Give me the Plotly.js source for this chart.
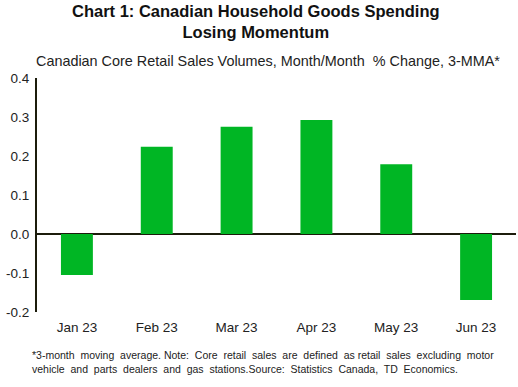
<!DOCTYPE html>
<html><head><meta charset="utf-8">
<script src="https://cdn.plot.ly/plotly-3.0.1.min.js"></script>
<style>html,body{margin:0;padding:0;background:#fff}#c{width:518px;height:387px}</style>
</head><body><div id="c"></div>
<script>
const months = ["Jan 23","Feb 23","Mar 23","Apr 23","May 23","Jun 23"];
const values = [-0.105, 0.224, 0.275, 0.292, 0.179, -0.169];
const yTicks = [-0.2,-0.1,0.0,0.1,0.2,0.3,0.4];
const yTickText = ["-0.2","-0.1","0.0","0.1","0.2","0.3","0.4"];

const font = "Liberation Sans, Arial, sans-serif";
const data = [{type:"bar", x:months, y:values, marker:{color:"#00b624"}, hoverinfo:"none"}];
const layout = {
  width:518, height:387,
  margin:{l:37, r:2, t:78, b:75},
  paper_bgcolor:"#fff", plot_bgcolor:"#fff",
  bargap:0.6,
  showlegend:false,
  font:{family:font, color:"#222", size:13},
  xaxis:{showgrid:false, showline:false, zeroline:false, ticks:"", tickfont:{size:13.5, color:"#222"}, ticklabelstandoff:5},
  yaxis:{range:[-0.2,0.4], tickvals:yTicks, ticktext:yTickText, showgrid:false, showline:true, linecolor:"#1c1c0c", linewidth:2,
         zeroline:true, zerolinecolor:"#1c1c0c", zerolinewidth:2, ticks:"", tickfont:{size:13.5,color:"#222"}, ticklabelstandoff:3},
  annotations:[
    {text:"<b>Chart 1: Canadian Household Goods Spending</b><br><b>Losing Momentum</b>", xref:"paper", yref:"paper",
     x:0.457, y:1, yshift:78, xanchor:"center", yanchor:"top", showarrow:false, font:{size:16.5, color:"#111", family:font}},
    {text:"Canadian Core Retail Sales Volumes, Month/Month  % Change, 3-MMA*", xref:"paper", yref:"paper",
     x:0.0, xshift:-3, y:1, yshift:27, xanchor:"left", yanchor:"top", showarrow:false, font:{size:14.4, color:"#222", family:font}},
    {text:"*3-month  moving  average. Note:  Core  retail  sales  are  defined  as retail  sales  excluding  motor<br>vehicle  and  parts  dealers  and  gas  stations.Source:  Statistics  Canada,  TD  Economics.",
     xref:"paper", yref:"paper", x:0, xshift:-7, y:0, yshift:-35, xanchor:"left", yanchor:"top", align:"left", showarrow:false,
     font:{size:10.5, color:"#222", family:font}}
  ]
};
Plotly.newPlot("c", data, layout, {displayModeBar:false, staticPlot:true});
</script></body></html>
